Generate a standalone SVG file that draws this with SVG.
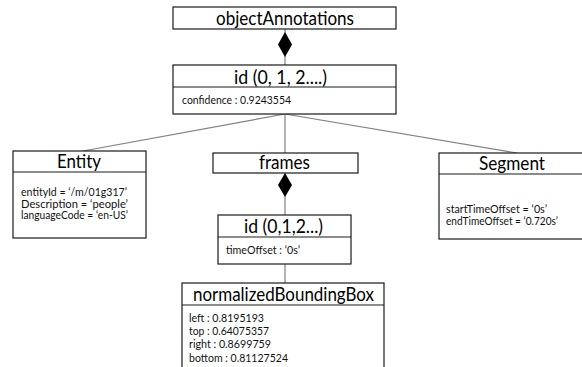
<svg xmlns="http://www.w3.org/2000/svg" width="582" height="367" viewBox="0 0 582 367">
<style>
.box{fill:#fff;stroke:#1a1a1a;stroke-width:1.2}
.div{stroke:#1a1a1a;stroke-width:1.2}
.h{font-family:Lato,"Open Sans",sans-serif;font-size:19.5px;fill:#000;text-anchor:middle}
.b{font-family:Lato,"Open Sans",sans-serif;font-size:11.5px;fill:#111}
.ln{stroke:#808080;stroke-width:1.2;fill:none}
.dia{fill:#000}
</style>
<g id="connectors">
<line class="ln" x1="285" y1="29" x2="285" y2="65"/>
<polygon class="dia" points="285,32 292,44.5 285,57 278,44.5"/>
<line class="ln" x1="285" y1="114" x2="83" y2="151"/>
<line class="ln" x1="285" y1="114" x2="285" y2="153"/>
<line class="ln" x1="285" y1="114" x2="517" y2="153"/>
<line class="ln" x1="285" y1="173" x2="285" y2="215"/>
<polygon class="dia" points="285,173 292,185 285,197 278,185"/>
<line class="ln" x1="285" y1="264" x2="285" y2="283"/>
</g>
<g id="objectAnnotations">
<rect class="box" x="173" y="7" width="223" height="22"/>
<text class="h" x="285" y="25" textLength="138" lengthAdjust="spacingAndGlyphs">objectAnnotations</text>
</g>
<g id="id1">
<rect class="box" x="173" y="65" width="223" height="49"/>
<line class="div" x1="173" y1="87" x2="396" y2="87"/>
<text class="h" x="280.5" y="84" textLength="93" lengthAdjust="spacingAndGlyphs">id (0, 1, 2....)</text>
<text class="b" x="182" y="104" textLength="109" lengthAdjust="spacingAndGlyphs">confidence : 0.9243554</text>
</g>
<g id="entity">
<rect class="box" x="13" y="151" width="133" height="87"/>
<line class="div" x1="13" y1="172" x2="146" y2="172"/>
<text class="h" x="79" y="168" textLength="44" lengthAdjust="spacingAndGlyphs">Entity</text>
<text class="b" x="21" y="196" textLength="106" lengthAdjust="spacingAndGlyphs">entityId = ‘/m/01g317’</text>
<text class="b" x="21" y="207.5" textLength="107" lengthAdjust="spacingAndGlyphs">Description = ‘people’</text>
<text class="b" x="21" y="219" textLength="107" lengthAdjust="spacingAndGlyphs">languageCode = ‘en-US’</text>
</g>
<g id="frames">
<rect class="box" x="213" y="153" width="145" height="20"/>
<text class="h" x="284.5" y="169" textLength="51" lengthAdjust="spacingAndGlyphs">frames</text>
</g>
<g id="segment">
<rect class="box" x="439" y="153" width="150" height="86"/>
<line class="div" x1="439" y1="174" x2="589" y2="174"/>
<text class="h" x="512" y="170" textLength="66" lengthAdjust="spacingAndGlyphs">Segment</text>
<text class="b" x="446" y="213" textLength="101" lengthAdjust="spacingAndGlyphs">startTimeOffset = ‘0s’</text>
<text class="b" x="446" y="225" textLength="112" lengthAdjust="spacingAndGlyphs">endTimeOffset = ‘0.720s’</text>
</g>
<g id="id2">
<rect class="box" x="218" y="215" width="133" height="49"/>
<line class="div" x1="218" y1="237" x2="351" y2="237"/>
<text class="h" x="283.5" y="233" textLength="79" lengthAdjust="spacingAndGlyphs">id (0,1,2...)</text>
<text class="b" x="226" y="254" textLength="74" lengthAdjust="spacingAndGlyphs">timeOffset : ‘0s’</text>
</g>
<g id="normalizedBoundingBox">
<rect class="box" x="182" y="283" width="202" height="100"/>
<line class="div" x1="182" y1="305" x2="384" y2="305"/>
<text class="h" x="283.5" y="301" textLength="181" lengthAdjust="spacingAndGlyphs">normalizedBoundingBox</text>
<text class="b" x="189" y="321.5" textLength="75" lengthAdjust="spacingAndGlyphs">left : 0.8195193</text>
<text class="b" x="189" y="335" textLength="80" lengthAdjust="spacingAndGlyphs">top : 0.64075357</text>
<text class="b" x="189" y="348" textLength="82" lengthAdjust="spacingAndGlyphs">right : 0.8699759</text>
<text class="b" x="189" y="361.5" textLength="99" lengthAdjust="spacingAndGlyphs">bottom : 0.81127524</text>
</g>
</svg>
